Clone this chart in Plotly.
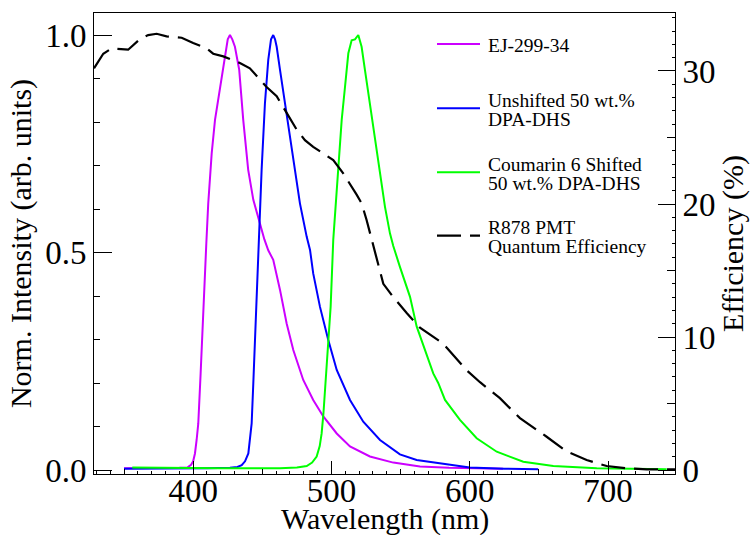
import plotly.graph_objects as go

# ---- emission spectra (normalised intensity) ----
ej_wl = [350, 370, 390, 396, 398.5, 400, 401.3, 402.5, 403.7, 405.4, 407.3, 409.5, 410.9,
         413.4, 415.8, 419.4, 423, 425, 426.6, 428.3, 430.2, 433.3, 436.2, 439.8, 443.5,
         448.3, 451.5, 454.3, 457.9, 462.8, 467.6, 472.4, 479.6, 486.8, 494.1, 503.8,
         513.4, 527.8, 544.7, 564, 585, 605, 624]
ej_int = [0.004, 0.004, 0.005, 0.006, 0.012, 0.02, 0.038, 0.069, 0.107, 0.222, 0.375, 0.52, 0.613,
          0.728, 0.805, 0.881, 0.958, 0.99, 1.0, 0.99, 0.973, 0.92, 0.805, 0.69, 0.621,
          0.567, 0.53, 0.505, 0.483, 0.414, 0.337, 0.276, 0.207, 0.161, 0.123, 0.084,
          0.054, 0.031, 0.017, 0.008, 0.005, 0.004, 0.003]

dpa_wl = [350, 380, 410, 426.6, 432, 435.1, 437.5, 439.9, 441.2, 442.3, 443.5, 444.7, 447.8,
          449.5, 451.9, 454.3, 456.3, 457.9, 459.2, 460.4, 462.8, 466.4, 470, 473.6, 477.2,
          482.1, 484.5, 486.8, 491.7, 497.7, 503.8, 513.4, 523, 535.1, 549.5, 561.6, 571,
          585, 600, 625, 649.5]
dpa_int = [0.003, 0.003, 0.004, 0.005, 0.007, 0.011, 0.02, 0.038, 0.07, 0.107, 0.2, 0.299, 0.52,
           0.69, 0.843, 0.943, 0.99, 1.0, 0.99, 0.973, 0.92, 0.843, 0.766, 0.69, 0.613,
           0.536, 0.506, 0.452, 0.375, 0.299, 0.23, 0.161, 0.111, 0.069, 0.036, 0.023, 0.019,
           0.012, 0.006, 0.003, 0.002]

c6_wl = [356, 380, 420, 450, 462.8, 475, 482.1, 486, 489.3, 491.5, 492.9, 494.2, 495.3, 497.7,
         499.4, 501.3, 503.8, 505.7, 507.4, 509.8, 512.2, 514.6, 517, 519.4, 521.8, 524.2,
         527.8, 531.5, 535.1, 538.7, 542.3, 544.7, 549.5, 556.8, 561.6, 567.6, 573.6, 577.2,
         582.1, 592.9, 605, 619.5, 638.7, 660.4, 691.8, 742.4]
c6_int = [0.006, 0.005, 0.004, 0.004, 0.004, 0.006, 0.009, 0.017, 0.031, 0.055, 0.084, 0.13, 0.184, 0.299,
          0.375, 0.529, 0.651, 0.728, 0.805, 0.881, 0.958, 0.988, 0.99, 1.0, 0.973, 0.92,
          0.843, 0.766, 0.69, 0.605, 0.544, 0.515, 0.467, 0.398, 0.33, 0.276, 0.222, 0.2,
          0.161, 0.115, 0.073, 0.042, 0.019, 0.009, 0.004, 0.002]

# ---- PMT quantum efficiency (%) ----
qe_wl = [328.3, 335, 341.1, 345.8, 353, 361.5, 367.5, 373.6, 380.8, 391.7, 400, 409.8, 414.5,
         421.8, 433.8, 441, 453.1, 460.4, 467.6, 474.8, 480.8, 486.8, 501.3, 508.5, 518.2,
         521.8, 525.4, 529.1, 531.5, 537.5, 544.7, 549.5, 554.4, 564, 580.8, 597.8, 607.4,
         621.8, 636.3, 655.6, 670, 684.5, 699, 713.5, 728, 748.4]
qe_pct = [30.2, 31.3, 31.7, 31.65, 31.6, 32.4, 32.7, 32.8, 32.6, 32.5, 32.1, 31.7, 31.3,
          31.1, 30.6, 30.2, 28.8, 28.1, 26.8, 25.6, 24.8, 24.3, 23.3, 22.3, 20.7,
          20.05, 18.8, 17.3, 16.5, 14.0, 13.0, 12.4, 11.8, 10.7, 9.5, 7.5, 6.6,
          5.4, 3.9, 2.5, 1.4, 0.75, 0.3, 0.13, 0.05, 0.05]

series_names = ["EJ-299-34",
                "Unshifted 50 wt.%<br>DPA-DHS",
                "Coumarin 6 Shifted<br>50 wt.% DPA-DHS",
                "R878 PMT<br>Quantum Efficiency"]
series_colors = ["#CC00FF", "#0000FF", "#00FF00", "#000000"]
QE_DASH = "24px,9px"

x_ticks = [400, 500, 600, 700]
y_ticks = [0.0, 0.5, 1.0]
y2_ticks = [0, 10, 20, 30]
x_title = "Wavelength (nm)"

FONT = "'Liberation Serif', 'Times New Roman', Times, serif"
W, H = 756, 535
ML, MR, MT, MB = 94, 81, 13, 61
PW, PH = W - ML - MR, H - MT - MB

fig = go.Figure()
for wl, val, name, col in zip([ej_wl, dpa_wl, c6_wl], [ej_int, dpa_int, c6_int],
                              series_names[:3], series_colors[:3]):
    fig.add_trace(go.Scatter(x=wl, y=val, mode="lines", name=name.replace("<br>", " "),
                             line=dict(color=col, width=2), xaxis="x", yaxis="y"))
fig.add_trace(go.Scatter(x=qe_wl, y=qe_pct, mode="lines", name=series_names[3].replace("<br>", " "),
                         line=dict(color=series_colors[3], width=2.2, dash=QE_DASH),
                         xaxis="x", yaxis="y2"))
# empty helpers so the secondary tick / label axes get drawn
for xa, ya in (("x2", "y"), ("x3", "y"), ("x", "y3")):
    fig.add_trace(go.Scatter(x=[], y=[], xaxis=xa, yaxis=ya, showlegend=False, hoverinfo="skip"))

XR = [328.3, 748.4]
YR = [-0.0092, 1.0506]
Y2R = [-0.30, 34.36]

tickfont = dict(family=FONT, size=33, color="black")
titlefont = dict(family=FONT, size=30, color="black")


def px_x(p):
    return (p - ML) / PW


def px_y(p):
    return 1 - (p - MT) / PH


fig.update_layout(
    width=W, height=H,
    margin=dict(l=ML, r=MR, t=MT, b=MB, pad=0, autoexpand=False),
    paper_bgcolor="white", plot_bgcolor="white",
    showlegend=False,
    font=dict(family=FONT, color="black"),
    # main wavelength axis: line, major and minor ticks
    xaxis=dict(range=XR, tickmode="array", tickvals=x_ticks, ticks="inside", ticklen=13,
               tickwidth=1, tickcolor="black", showline=True, linecolor="black", linewidth=1,
               mirror=True, showgrid=False, zeroline=False, showticklabels=False,
               automargin=False,
               minor=dict(tickmode="linear", tick0=0, dtick=10, ticks="inside", ticklen=3,
                          tickcolor="black", showgrid=False)),
    # intermediate ticks every 50 nm
    xaxis2=dict(range=XR, overlaying="x", anchor="y", side="bottom", tickmode="linear",
                tick0=0, dtick=50, ticks="inside", ticklen=5, tickcolor="black", automargin=False,
                showticklabels=False, showline=False, showgrid=False, zeroline=False),
    # wavelength tick labels, set slightly closer to the axis line
    xaxis3=dict(range=XR, overlaying="x", anchor="free", position=6 / PH, side="bottom",
                tickmode="array", tickvals=x_ticks, ticks="", showline=False, showgrid=False,
                zeroline=False, tickfont=tickfont, automargin=False),
    yaxis=dict(range=YR, tickmode="array", tickvals=y_ticks, tickformat=".1f", ticks="inside",
               ticklen=18, tickwidth=1, tickcolor="black", showline=True, linecolor="black",
               linewidth=1, showgrid=False, zeroline=False, tickfont=tickfont, automargin=False,
               minor=dict(tickmode="linear", tick0=0, dtick=0.1, ticks="inside", ticklen=6,
                          tickcolor="black", showgrid=False),
               title=dict(text="Norm. Intensity (arb. units)", font=titlefont, standoff=4)),
    yaxis2=dict(range=Y2R, overlaying="y", side="right", anchor="x", tickmode="array",
                tickvals=y2_ticks, ticks="inside", ticklen=17, tickwidth=1, tickcolor="black",
                showline=True, linecolor="black", linewidth=1, showgrid=False, zeroline=False,
                tickfont=tickfont, automargin=False,
                minor=dict(tickmode="linear", tick0=0, dtick=1, ticks="inside", ticklen=3,
                           tickcolor="black", showgrid=False),
                title=dict(text="Efficiency (%)", font=titlefont, standoff=4)),
    yaxis3=dict(range=Y2R, overlaying="y", side="right", anchor="x", tickmode="linear",
                tick0=0, dtick=5, ticks="inside", ticklen=8, tickcolor="black", automargin=False,
                showticklabels=False, showline=False, showgrid=False, zeroline=False),
)

# wavelength axis title
fig.add_annotation(xref="paper", yref="paper", x=0.5, y=px_y(518.5), text=x_title,
                   showarrow=False, xanchor="center", yanchor="middle", font=titlefont,
                   borderpad=0)

# ---- legend drawn in the upper right of the plot ----
leg_rows = [44, 108.3, 172.3, 235.7]
leg_x0, leg_x1, leg_text_x = 437, 480, 487
leg_line_gap = 19.5
leg_font = dict(family=FONT, size=19.5, color="black")

for i, (name, col, yc) in enumerate(zip(series_names, series_colors, leg_rows)):
    fig.add_shape(type="line", xref="paper", yref="paper",
                  x0=px_x(leg_x0), x1=px_x(leg_x1), y0=px_y(yc), y1=px_y(yc),
                  line=dict(color=col, width=2.2 if i == 3 else 2,
                            dash=QE_DASH if i == 3 else "solid"))
    parts = name.split("<br>")
    n = len(parts)
    for j, part in enumerate(parts):
        yy = yc + 1.5 + (j - (n - 1) / 2) * leg_line_gap
        fig.add_annotation(xref="paper", yref="paper", x=px_x(leg_text_x), y=px_y(yy),
                           text=part, showarrow=False, xanchor="left", yanchor="middle",
                           font=leg_font, borderpad=0)

fig.write_html("out.html")
